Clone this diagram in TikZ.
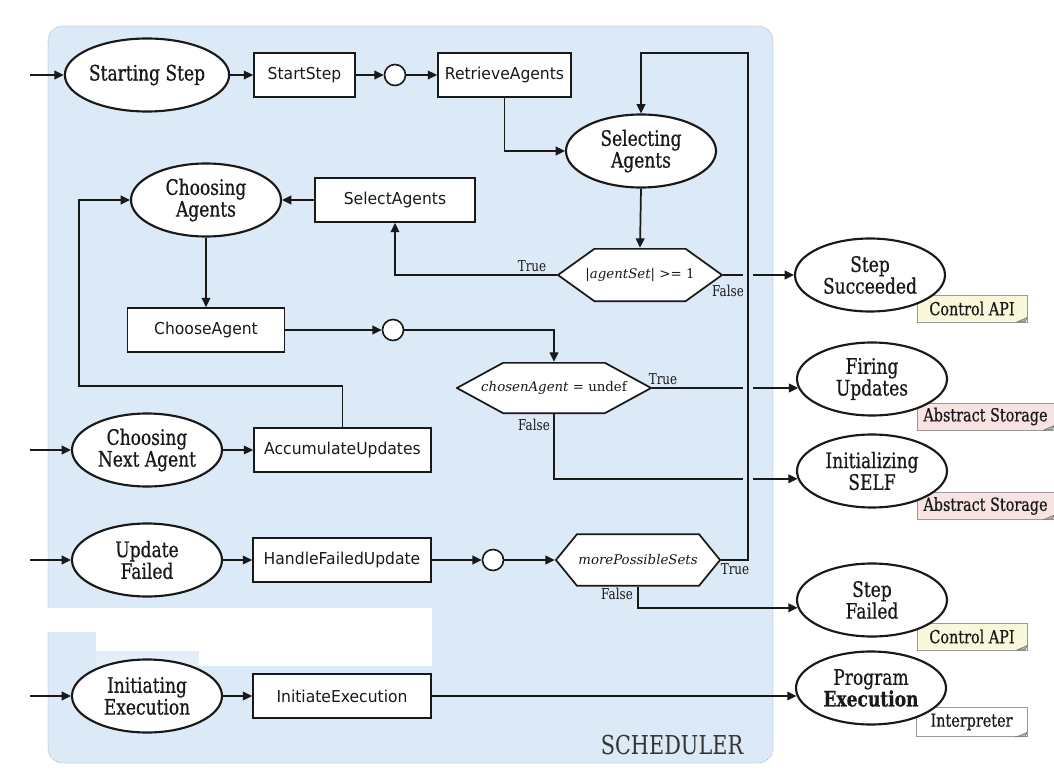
\documentclass[tikz,border=0pt]{standalone}
\usepackage{fontspec}
\setmainfont{DejaVu Serif}
\newfontfamily\statefont[FakeStretch=0.8,FakeBold=0.6]{DejaVu Serif}
\newfontfamily\labelfont[FakeStretch=0.8]{DejaVu Serif}
\newfontfamily\actfont[FakeStretch=0.95]{DejaVu Sans}
\usetikzlibrary{arrows.meta,shapes.geometric,calc}

\definecolor{schedbg}{RGB}{220,233,246}
\definecolor{schedline}{RGB}{150,158,168}
\definecolor{apinote}{RGB}{250,248,218}
\definecolor{storenote}{RGB}{247,227,225}
\definecolor{ink}{RGB}{25,25,25}

\begin{document}
\begin{tikzpicture}[x=0.75pt,y=-0.75pt,
  >={Triangle[length=7pt,width=6.5pt]},
  conn/.style={draw=ink,line width=1.3pt},
  state/.style={ellipse,draw=ink,line width=1.6pt,fill=white,
    minimum width=112.5pt,minimum height=54.75pt,inner sep=0pt,align=center,
    text=ink,font=\statefont\fontsize{16}{16.3}\selectfont},
  action/.style={rectangle,draw=ink,line width=1.3pt,fill=white,
    minimum height=33pt,inner sep=0pt,text=ink,
    font=\actfont\fontsize{12.3}{14}\selectfont},
  junction/.style={circle,draw=ink,line width=1.2pt,fill=white,
    minimum size=15.75pt,inner sep=0pt},
  decision/.style={rectangle,fill=schedbg,inner sep=0pt,text=ink,
    font=\fontsize{10}{12}\selectfont,
    path picture={\draw[line width=1.3pt,draw=ink,fill=white]
      ([xshift=0.7pt]path picture bounding box.west)
      -- ([xshift=#1,yshift=-0.65pt]path picture bounding box.north west)
      -- ([xshift=-#1,yshift=-0.65pt]path picture bounding box.north east)
      -- ([xshift=-0.7pt]path picture bounding box.east)
      -- ([xshift=-#1,yshift=0.65pt]path picture bounding box.south east)
      -- ([xshift=#1,yshift=0.65pt]path picture bounding box.south west)
      -- cycle;}},
  branch/.style={inner sep=0pt,text=ink,font=\labelfont\fontsize{11.2}{12}\selectfont},
  note/.style={rectangle,draw=black!40,line width=0.4pt,inner sep=0pt,
    minimum height=20pt,text=ink,font=\statefont\fontsize{13.5}{15}\selectfont},
  fold/.style={fill=black!30,draw=black!55,line width=0.4pt},
  gapband/.style={draw=schedbg,line width=7.5pt}
]
\useasboundingbox (0,0) rectangle (1054,774);

% scheduler region
\draw[fill=schedbg,draw=schedline,line width=0.5pt,densely dotted,rounded corners=11pt]
  (48,26) rectangle (773,763);
\fill[white] (44,608) rectangle (96,632);
\fill[white] (96,608) rectangle (432,666);
\fill[schedbg!75] (96,651) rectangle (199,666);
\node[font=\labelfont\fontsize{19.5}{20}\selectfont,text=black!80] (schedname) at (672,745) {SCHEDULER};

% notes attached to the external states
\node[note,fill=apinote,minimum width=82.5pt] (n1) at (972,308.5) {Control API};
\node[note,fill=storenote,minimum width=102.75pt] (n2) at (985.5,416.5) {Abstract Storage};
\node[note,fill=storenote,minimum width=102.75pt] (n3) at (985.5,506) {Abstract Storage};
\node[note,fill=apinote,minimum width=82.5pt] (n4) at (972,636.5) {Control API};
\node[note,fill=white,minimum width=83.25pt,minimum height=22pt] (n5) at (971.5,722) {Interpreter};
\foreach \n in {n1,n2,n3,n4,n5}{
  \path[fold] ([xshift=-8pt]\n.south east) -- ([yshift=3.5pt]\n.south east)
    -- ([xshift=-1.5pt,yshift=0.5pt]\n.south east) -- cycle;
}

% entry points
\coordinate (in0) at (30,75);
\coordinate (in1) at (30,450);
\coordinate (in2) at (30,560);
\coordinate (in3) at (30,696);

% row: starting step
\node[state] (sstart) at (147,75) {Starting Step};
\node[action,minimum width=75.75pt] (startstep) at (304.5,75) {StartStep};
\node[junction] (j1) at (395,75) {};
\node[action,minimum width=99.75pt] (retr) at (504.5,75) {RetrieveAgents};
\node[state] (selecting) at (641,151) {Selecting\\Agents};

% choosing agents
\node[state] (chooseag) at (206,200) {Choosing\\Agents};
\node[action,minimum width=120pt] (selag) at (395,200) {SelectAgents};
\node[decision=28pt,minimum width=124.5pt,minimum height=40.5pt] (d1) at (640,275)
  {|\textit{agentSet}| >= 1};
\node[action,minimum width=117.75pt] (choose) at (206,330) {ChooseAgent};
\node[junction] (j2) at (393,330) {};
\node[decision=35.25pt,minimum width=147pt,minimum height=39pt] (d2) at (554,388)
  {\textit{chosenAgent} = undef};

% next agent
\node[state] (chnext) at (147,450) {Choosing\\Next Agent};
\node[action,minimum width=132.75pt] (accum) at (342.5,450) {AccumulateUpdates};

% failed update
\node[state] (upfail) at (147,560) {Update\\Failed};
\node[action,minimum width=133.5pt] (hfu) at (342,560) {HandleFailedUpdate};
\node[junction] (j3) at (493,560) {};
\node[decision=16.5pt,minimum width=124.5pt,minimum height=40pt] (d3) at (638,560)
  {\textit{morePossibleSets}};

% initiating execution
\node[state] (initexec) at (147,696) {Initiating\\Execution};
\node[action,minimum width=133.5pt] (ie) at (342,696) {InitiateExecution};

% external states
\node[state] (ssucc) at (870,275) {Step\\Succeeded};
\node[state] (fire) at (872,379) {Firing\\Updates};
\node[state] (selfinit) at (872,471) {Initializing\\SELF};
\node[state] (sfail) at (872,600) {Step\\Failed};
\node[state] (progexec) at (871,688) {Program\\\textbf{Execution}};

% branch labels
\node[branch] (t1) at (532,266) {True};
\node[branch] (f1) at (728,291) {False};
\node[branch] (t2) at (663,379) {True};
\node[branch] (f2) at (534,425) {False};
\node[branch] (t3) at (735,569) {True};
\node[branch] (f3) at (617,594) {False};

% connectors
\draw[conn,->] (in0) -- (sstart.west);
\draw[conn,->] (sstart.east) -- (startstep.west);
\draw[conn,->] (startstep.east) -- (j1.west);
\draw[conn,->] (j1.east) -- (retr.west);
\draw[conn,->] (retr.south) |- (selecting.west);
\draw[conn,->] (selecting.south) -- (d1.north);
\draw[conn,->] (d1.west) -| (selag.south);
\draw[conn,->] (selag.west) -- (chooseag.east);
\draw[conn,->] (chooseag.south) -- (choose.north);
\draw[conn,->] (choose.east) -- (j2.west);
\draw[conn,->] (j2.east) -| (d2.north);
\draw[conn,->] (d1.east) -- (ssucc.west);
\draw[conn,->] (d2.east) -- (d2.east -| fire.187);
\draw[conn,->] (d2.south) |- (selfinit.186);

\draw[conn,->] (in1) -- (chnext.west);
\draw[conn,->] (chnext.east) -- (accum.west);
\coordinate (backL) at (79,386);
\draw[conn,->] (accum.north) |- (backL) |- (chooseag.west);

\draw[conn,->] (in2) -- (upfail.west);
\draw[conn,->] (upfail.east) -- (hfu.west);
\draw[conn,->] (hfu.east) -- (j3.west);
\draw[conn,->] (j3.east) -- (d3.west);
\draw[conn,->] (d3.south) |- (sfail.186);

\draw[conn,->] (in3) -- (initexec.west);
\draw[conn,->] (initexec.east) -- (ie.west);
\draw[conn,->] (ie.east) -- (ie.east -| progexec.186);

% retry loop back to agent selection, crossing the outgoing lines
\coordinate (loopTop) at (748,53);
\coordinate (loopBot) at (loopTop |- d3.east);
\draw[gapband,shorten <=150pt,shorten >=40pt] (loopTop) -- (loopBot);
\draw[conn,->] (d3.east) -- (loopBot) -- (loopTop) -| (selecting.north);
\end{tikzpicture}
\end{document}
